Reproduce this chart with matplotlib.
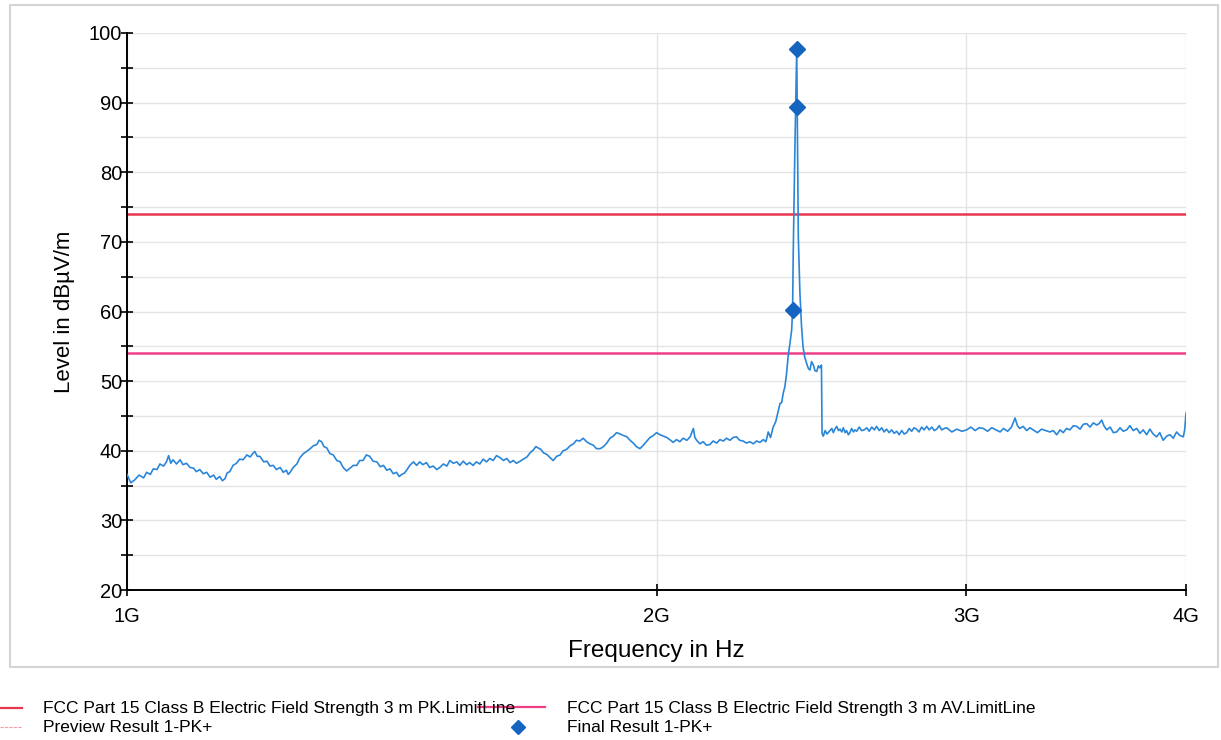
import matplotlib.pyplot as plt
from matplotlib.lines import Line2D
from matplotlib.patches import Rectangle
from matplotlib.ticker import FixedLocator, MultipleLocator, NullLocator

plt.rcParams['font.family'] = ['Liberation Sans', 'DejaVu Sans']

# preview scan, peak detector (MHz, dBuV/m)
trace_mhz = [
    1000, 1005, 1010, 1016, 1022, 1026, 1031, 1035, 1040, 1044, 1049, 1053, 1056, 1059,
    1062, 1067, 1072, 1076, 1081, 1086, 1091, 1095, 1100, 1105, 1110, 1115, 1120, 1124,
    1129, 1133, 1137, 1140, 1144, 1149, 1154, 1159, 1164, 1170, 1175, 1179, 1182, 1186,
    1190, 1196, 1201, 1206, 1211, 1216, 1222, 1227, 1232, 1235, 1238, 1243, 1249, 1254,
    1260, 1265, 1271, 1276, 1282, 1286, 1290, 1294, 1299, 1304, 1310, 1316, 1322,
    1327, 1333, 1339, 1345, 1351, 1356, 1362, 1368, 1374, 1380, 1387, 1393, 1399, 1405,
    1411, 1417, 1423, 1428, 1433, 1438, 1442, 1448, 1455, 1461, 1467, 1473, 1480, 1486,
    1493, 1500, 1506, 1513, 1520, 1526, 1533, 1540, 1546, 1553, 1560, 1566, 1573, 1580,
    1587, 1594, 1601, 1608, 1615, 1622, 1630, 1637, 1644, 1651, 1658, 1665, 1673, 1680,
    1688, 1695, 1702, 1708, 1713, 1719, 1725, 1732, 1740, 1747, 1755, 1763, 1770, 1778,
    1786, 1794, 1801, 1809, 1817, 1825, 1833, 1841, 1849, 1858, 1866, 1874, 1882, 1890,
    1898, 1907, 1915, 1924, 1932, 1940, 1948, 1957, 1966, 1975, 1983, 1992, 2000, 2009,
    2018, 2027, 2035, 2044, 2053, 2062, 2071, 2081, 2090, 2099, 2103, 2108, 2117, 2126,
    2135, 2145, 2154, 2164, 2173, 2183, 2192, 2202, 2211, 2221, 2230, 2240, 2250, 2260,
    2270, 2280, 2290, 2300, 2308, 2315, 2322, 2330, 2338, 2346, 2351, 2356, 2361, 2366,
    2371, 2376, 2382, 2387, 2390, 2392, 2397, 2403, 2405, 2408, 2413, 2418, 2423, 2428,
    2434, 2440, 2445, 2450, 2456, 2461, 2467, 2472, 2477, 2482, 2484, 2488, 2494, 2500,
    2510, 2516, 2521, 2526, 2532, 2538, 2543, 2549, 2554, 2560, 2565, 2571, 2576, 2582,
    2588, 2593, 2599, 2608, 2616, 2625, 2634, 2642, 2651, 2660, 2668, 2677, 2686, 2694,
    2703, 2712, 2721, 2730, 2739, 2748, 2757, 2766, 2775, 2784, 2793, 2802, 2811, 2820,
    2830, 2839, 2849, 2858, 2868, 2877, 2886, 2896, 2905, 2915, 2924, 2944, 2963, 2983,
    3002, 3018, 3035, 3051, 3068, 3085, 3102, 3119, 3136, 3150, 3167, 3183, 3198, 3208,
    3218, 3232, 3247, 3261, 3275, 3293, 3311, 3329, 3347, 3362, 3377, 3392, 3406, 3421,
    3436, 3452, 3467, 3482, 3497, 3512, 3528, 3543, 3559, 3570, 3582, 3594, 3606, 3622,
    3637, 3653, 3669, 3685, 3701, 3717, 3733, 3750, 3766, 3782, 3799, 3815, 3832, 3849,
    3865, 3882, 3900, 3917, 3934, 3951, 3968, 3986, 3993, 4000,
]
trace_dbuv = [
    36.6, 35.4, 35.8, 36.5, 36.1, 36.9, 36.6, 37.4, 37.3, 38.1, 37.8, 38.4, 39.3, 38.2,
    38.7, 38.1, 38.7, 38.0, 38.2, 37.6, 37.5, 37.0, 37.3, 36.7, 36.9, 36.2, 36.5, 35.9,
    36.3, 35.7, 36.0, 36.8, 37.0, 37.9, 38.2, 38.8, 38.7, 39.4, 39.1, 39.6, 39.9, 39.2,
    39.2, 38.4, 38.5, 37.8, 37.9, 37.3, 37.6, 36.9, 37.2, 36.6, 36.9, 37.6, 38.1, 39.0,
    39.6, 39.9, 40.3, 40.7, 40.9, 41.5, 41.3, 40.6, 40.4, 39.6, 39.4, 38.6, 38.4,
    37.6, 37.1, 37.5, 37.9, 37.9, 38.6, 38.6, 39.4, 39.2, 38.5, 38.4, 37.7, 37.9, 37.2,
    37.4, 36.7, 36.9, 36.3, 36.6, 36.8, 37.2, 37.9, 38.4, 37.9, 38.4, 38.0, 38.3, 37.6,
    37.8, 37.3, 37.6, 38.1, 37.8, 38.6, 38.2, 38.4, 37.9, 38.5, 38.0, 38.3, 37.9, 38.4,
    38.1, 38.8, 38.4, 38.9, 38.6, 39.3, 39.0, 38.6, 38.9, 38.3, 38.6, 38.2, 38.5, 38.8,
    39.1, 39.7, 40.1, 40.6, 40.4, 40.2, 39.7, 39.5, 39.0, 38.6, 39.2, 39.4, 40.0, 40.2,
    40.7, 41.0, 41.5, 41.4, 41.8, 41.3, 41.0, 40.8, 40.3, 40.3, 40.6, 41.1, 41.8, 42.1,
    42.6, 42.4, 42.2, 42.0, 41.5, 41.1, 40.6, 40.3, 40.8, 41.4, 41.9, 42.2, 42.6, 42.3,
    42.1, 41.9, 41.6, 41.2, 41.6, 41.3, 41.8, 41.5, 42.0, 43.2, 41.9, 41.5, 41.0, 41.3,
    40.8, 40.9, 41.4, 41.1, 41.6, 41.4, 41.8, 41.5, 41.9, 42.0, 41.5, 41.4, 41.1, 41.3,
    41.0, 41.4, 41.2, 41.6, 41.3, 42.7, 41.9, 43.4, 44.2, 45.8, 46.8, 46.9, 48.3, 49.2,
    51.0, 53.5, 55.5, 57.3, 60.0, 68.4, 82.8, 97.7, 87.5, 70.7, 62.7, 58.0, 54.9, 53.5,
    52.6, 51.8, 51.6, 52.8, 52.3, 51.5, 51.4, 52.2, 51.9, 52.3, 42.5, 42.1, 42.9, 42.4,
    42.9, 43.2, 42.6, 43.1, 43.5, 42.9, 43.1, 42.7, 43.3, 42.6, 42.9, 42.3, 42.6, 43.2,
    42.7, 43.0, 42.8, 43.4, 42.9, 43.0, 43.3, 42.8, 43.4, 43.0, 43.5, 42.9, 43.3, 42.7,
    43.1, 42.6, 43.0, 42.5, 42.8, 42.3, 42.9, 42.4, 42.6, 43.2, 42.8, 43.3, 43.1, 42.7,
    43.4, 43.0, 43.5, 43.0, 43.4, 42.9, 43.1, 43.6, 43.0, 43.2, 43.3, 42.7, 43.1, 42.8,
    43.0, 43.4, 42.9, 43.3, 43.2, 42.8, 43.3, 43.0, 42.7, 43.2, 42.8, 43.4, 44.7, 43.6,
    43.2, 43.5, 42.9, 43.3, 43.0, 42.6, 43.1, 42.9, 42.7, 42.9, 42.3, 43.0, 42.6, 43.2,
    43.0, 43.6, 43.5, 43.1, 43.8, 43.9, 43.4, 44.0, 43.7, 43.9, 44.4, 43.5, 43.0, 43.4,
    42.6, 42.7, 43.3, 42.8, 43.0, 43.6, 42.9, 43.2, 42.5, 43.0, 42.3, 43.1, 42.4, 42.0,
    42.6, 41.5, 42.1, 42.3, 41.8, 42.7, 42.2, 42.0, 43.0, 45.4,
]

# final measurements
final_mhz = [2390, 2403, 2404]
final_dbuv = [60.2, 97.7, 89.4]

pk_limit = 74.0
av_limit = 54.0

x_ticks_hz = [1e9, 2e9, 3e9, 4e9]
x_tick_labels = ['1G', '2G', '3G', '4G']

pk_color = '#e8364f'
av_color = '#ef3f86'
trace_color = '#2a86d8'
final_color = '#1565c0'

fig = plt.figure(figsize=(12.21, 7.40), dpi=100)
fig.patches.append(Rectangle((10 / 1221, 1 - 667 / 740), 1208 / 1221, 662 / 740,
                             transform=fig.transFigure, fill=False,
                             edgecolor='#d4d4d4', linewidth=1.5))

ax = fig.add_axes([127 / 1221, 1 - 590 / 740, 1059 / 1221, 557 / 740])
ax.set_xscale('log')
ax.set_xlim(1e9, 4e9)
ax.set_ylim(20, 100)

ax.plot([f * 1e6 for f in trace_mhz], trace_dbuv, color=trace_color, lw=1.2, zorder=3)
ax.axhline(pk_limit, color=pk_color, lw=1.8, zorder=2)
ax.axhline(av_limit, color=av_color, lw=1.8, zorder=2)
ax.plot([f * 1e6 for f in final_mhz], final_dbuv, ls='none', marker='D',
        ms=8, color=final_color, zorder=4)

ax.xaxis.set_major_locator(FixedLocator(x_ticks_hz))
ax.xaxis.set_minor_locator(NullLocator())
ax.set_xticklabels(x_tick_labels)
ax.yaxis.set_major_locator(MultipleLocator(10))
ax.yaxis.set_minor_locator(MultipleLocator(5))

ax.grid(True, which='both', axis='y', color='#e4e4e4', lw=1)
ax.grid(True, which='major', axis='x', color='#e4e4e4', lw=1)
ax.set_axisbelow(True)

for side in ('top', 'right'):
    ax.spines[side].set_visible(False)
for side in ('left', 'bottom'):
    ax.spines[side].set_linewidth(1.4)
ax.tick_params(which='both', direction='inout', length=9, width=1.2, labelsize=14.5)
ax.tick_params(axis='y', pad=-1)
ax.tick_params(axis='x', pad=8)

ax.set_xlabel('Frequency in Hz', fontsize=17.5, labelpad=10)
ax.set_ylabel('Level in dBµV/m', fontsize=16, labelpad=10)

# legend rows under the plot frame
def fy(py):
    return 1 - py / 740

def fx(px):
    return px / 1221

fig.lines.append(Line2D([fx(0), fx(22)], [fy(708), fy(708)], transform=fig.transFigure,
                        color=pk_color, lw=1.6))
fig.lines.append(Line2D([fx(0), fx(22)], [fy(727), fy(727)], transform=fig.transFigure,
                        color='#f2a0a8', lw=0.8, ls=(0, (3, 1))))
fig.lines.append(Line2D([fx(478), fx(545)], [fy(707), fy(707)], transform=fig.transFigure,
                        color=av_color, lw=1.6))
fig.lines.append(Line2D([fx(518)], [fy(727)], transform=fig.transFigure, ls='none',
                        marker='D', ms=7, color=final_color))

legend_kw = dict(fontsize=12.5, va='center', ha='left')
fig.text(fx(43), fy(708), 'FCC Part 15 Class B Electric Field Strength 3 m PK.LimitLine', **legend_kw)
fig.text(fx(43), fy(727), 'Preview Result 1-PK+', **legend_kw)
fig.text(fx(567), fy(708), 'FCC Part 15 Class B Electric Field Strength 3 m AV.LimitLine', **legend_kw)
fig.text(fx(567), fy(727), 'Final Result 1-PK+', **legend_kw)

fig.savefig('out.png', dpi=100)
